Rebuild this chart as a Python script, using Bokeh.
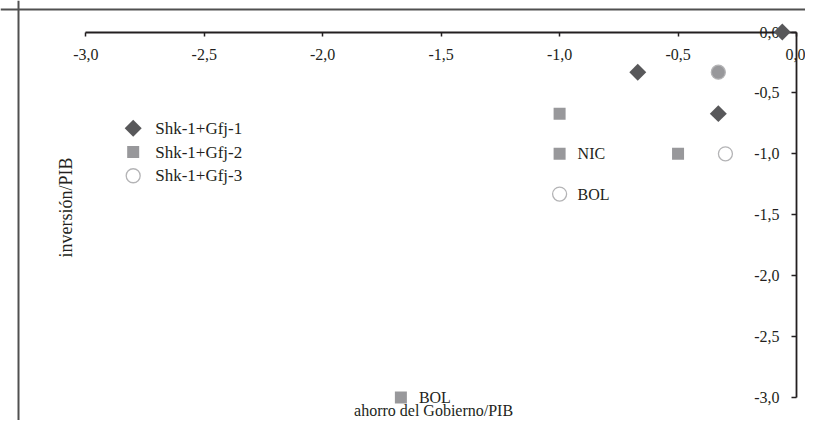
import math
from bokeh.plotting import figure
from bokeh.models import (Range1d, LinearAxis, FixedTicker, CustomJSTickFormatter,
                          Label, ColumnDataSource, Span)
from bokeh.core.properties import value
from bokeh.embed import file_html
from bokeh.resources import INLINE

# ---------------- data ----------------
S1_NAME = "Shk-1+Gfj-1"
S1_X = [-0.06, -0.67, -0.33]
S1_Y = [0.0, -0.33, -0.67]

S2_NAME = "Shk-1+Gfj-2"
S2_X = [-1.0, -1.0, -0.5, -1.67]
S2_Y = [-0.67, -1.0, -1.0, -3.0]
S2_LABELS = ["", "NIC", "", "BOL"]

S3_NAME = "Shk-1+Gfj-3"
S3_X = [-0.33, -0.30, -1.0]
S3_Y = [-0.33, -1.0, -1.33]
S3_LABELS = ["", "", "BOL"]

X_TICKS = [-3.0, -2.5, -2.0, -1.5, -1.0, -0.5, 0.0]
Y_TICKS = [0.0, -0.5, -1.0, -1.5, -2.0, -2.5, -3.0]
X_TITLE = "ahorro del Gobierno/PIB"
Y_TITLE = "inversión/PIB"

# ---------------- styles ----------------
FONT = "Liberation Serif"
INK = "#231f20"
C1 = "#58585a"
C2 = "#98989b"
C3_LINE = "#b4b4b6"
S3_FILL = [C2, "white", "white"]

W, H = 805, 420
X0, X1 = -3.3601, 0.0380
Y0, Y1 = -3.1888, 0.2586

p = figure(width=W, height=H, output_backend="svg", toolbar_location=None,
           x_range=Range1d(X0, X1), y_range=Range1d(Y0, Y1),
           x_axis_location=None, y_axis_location=None, min_border=0,
           background_fill_color="white", border_fill_color="white")
p.grid.visible = False
p.outline_line_color = None

fmt = CustomJSTickFormatter(code="return tick.toFixed(1).replace('.', ',');")

xaxis = LinearAxis(fixed_location=0, bounds=(-3, 0), ticker=FixedTicker(ticks=X_TICKS),
                   formatter=fmt)
yaxis = LinearAxis(fixed_location=0, bounds=(-3, 0), ticker=FixedTicker(ticks=Y_TICKS),
                   formatter=fmt)
for ax, tick_out, standoff in ((xaxis, 4, 13), (yaxis, 5, 12)):
    ax.axis_line_color = INK
    ax.axis_line_width = 1.8
    ax.major_tick_line_color = INK
    ax.major_tick_line_width = 1.5
    ax.major_tick_in = 0
    ax.major_tick_out = tick_out
    ax.minor_tick_in = 0
    ax.minor_tick_out = 0
    ax.major_label_text_font = FONT
    ax.major_label_text_font_size = "16px"
    ax.major_label_text_color = INK
    ax.major_label_standoff = standoff
    ax.level = "underlay"
p.add_layout(xaxis, "below")
p.add_layout(yaxis, "left")

# outer frame: only its top and left edges fall inside the picture
FRAME_L, FRAME_T = -3.2841, 0.1847
p.add_layout(Span(location=FRAME_T, dimension="width", line_color="#505050", line_width=2))
p.add_layout(Span(location=FRAME_L, dimension="height", line_color="#505050", line_width=2))

# series
src1 = ColumnDataSource(dict(x=S1_X, y=S1_Y))
src2 = ColumnDataSource(dict(x=S2_X, y=S2_Y, lab=S2_LABELS))
src3 = ColumnDataSource(dict(x=S3_X, y=S3_Y, lab=S3_LABELS, fill=S3_FILL))

p.scatter("x", "y", source=src2, marker="square", size=12, fill_color=C2, line_color=None)
p.scatter("x", "y", source=src3, marker="circle", size=14, fill_color="fill",
          line_color=C3_LINE, line_width=1.3)
p.scatter("x", "y", source=src1, marker="square", size=12, angle=math.pi / 4,
          fill_color=C1, line_color=None)

for src in (src2, src3):
    p.text("x", "y", text="lab", source=src, x_offset=18, text_baseline="middle",
           text_align="left", text_font=value(FONT), text_font_size="16px",
           text_color=INK)

# manual legend (layout constants)
LEG_X = -2.80
LEG_Y0 = -0.79
LEG_DY = -0.195
specs = [(S1_NAME, dict(marker="square", size=12, angle=math.pi / 4, fill_color=C1, line_color=None)),
         (S2_NAME, dict(marker="square", size=12, fill_color=C2, line_color=None)),
         (S3_NAME, dict(marker="circle", size=14, fill_color="white", line_color=C3_LINE, line_width=1.3))]
leg_y = [LEG_Y0 + i * LEG_DY for i in range(len(specs))]
for (name, kw), ly in zip(specs, leg_y):
    p.scatter([LEG_X], [ly], **kw)
p.text([LEG_X] * 3, leg_y, text=[s[0] for s in specs], x_offset=22, text_baseline="middle",
       text_align="left", text_font=value(FONT), text_font_size="17px", text_color=INK)

# axis titles
p.add_layout(Label(x=-1.532, y=Y0 + 0.085, text=X_TITLE, text_align="center",
                   text_baseline="alphabetic", text_font=FONT, text_font_size="16px",
                   text_color=INK))
p.add_layout(Label(x=-3.0815, y=-1.4405, text=Y_TITLE, text_align="center",
                   text_baseline="middle", angle=math.pi / 2, text_font=FONT,
                   text_font_size="18px", text_color=INK))

open("out.html", "w").write(file_html(p, INLINE))
